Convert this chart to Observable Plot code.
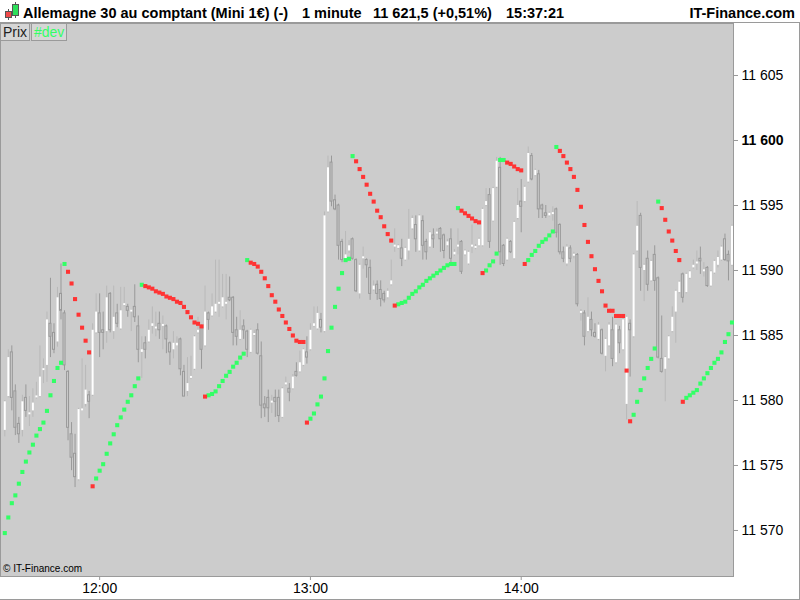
<!DOCTYPE html>
<html><head><meta charset="utf-8">
<script src="https://cdn.jsdelivr.net/npm/d3@7"></script>
<script src="https://cdn.jsdelivr.net/npm/@observablehq/plot@0.6"></script>
<style>
html,body{margin:0;padding:0;background:#fff;}
#wrap{position:relative;width:800px;height:600px;overflow:hidden;font-family:"Liberation Sans",Arial,sans-serif;}
#title{position:absolute;left:0;top:0;width:800px;height:22px;background:#fff;border-bottom:1px solid #9a9a9a;}
#title span{position:absolute;top:2px;line-height:22px;font-weight:bold;font-size:14.5px;white-space:pre;color:#000;}
#chart{position:absolute;left:0;top:23px;}
#chart g[aria-label$="tick"]{stroke:#999;}
.tag{position:absolute;top:23px;height:16px;line-height:16px;font-size:14px;border:1px solid #9a9a9a;background:#d6d6d6;padding:0 2px;}
#copy{position:absolute;left:3px;top:563px;font-size:10px;color:#000;}
#rline{position:absolute;left:799px;top:22px;width:1px;height:578px;background:#9a9a9a;}
#bline{position:absolute;left:0;top:599px;width:800px;height:1px;background:#9a9a9a;}
</style></head>
<body><div id="wrap">
<div id="title">
<svg style="position:absolute;left:2px;top:2px" width="18" height="18">
<line x1="6.5" y1="7" x2="6.5" y2="18" stroke="#555"/><rect x="3.5" y="9.5" width="6" height="6" fill="#f24a4a" stroke="#555"/>
<line x1="13.5" y1="0" x2="13.5" y2="16" stroke="#555"/><rect x="10.5" y="2.5" width="6" height="11" fill="#2ee05a" stroke="#555"/>
</svg>
<span style="left:23px">Allemagne 30 au comptant (Mini 1€) (-)</span>
<span style="left:302px">1 minute</span>
<span style="left:373px">11 621,5 (+0,51%)</span>
<span style="left:506px">15:37:21</span>
<span style="right:5px">IT-Finance.com</span>
</div>
<div id="chart"></div>
<div class="tag" style="left:0;color:#222">Prix</div>
<div class="tag" style="left:31px;color:#33ff66">#dev</div>
<div id="copy">© IT-Finance.com</div>
<div id="rline"></div><div id="bline"></div>
</div>
<script>
const openP = [11577.7,11580.3,11583.7,11580.7,11578.2,11577.7,11580.2,11578.9,11579.2,11580.2,11580.3,11582.3,11582.7,11585.9,11585.2,11584.5,11588.2,11586.7,11582.2,11577.4,11575.9,11573.9,11579.2,11579.7,11580.4,11580.4,11585.2,11586.7,11585.4,11585.3,11588.2,11585.3,11586.7,11585.5,11587.3,11587.2,11586.8,11587.2,11585.7,11583.7,11584.4,11584.5,11585.7,11585.5,11585.9,11585.7,11585.7,11584.4,11583.9,11584.2,11584.7,11582.2,11580.7,11581.7,11582.4,11585.2,11585.7,11584.2,11586.7,11586.5,11586.8,11587.4,11587.2,11587.4,11587.9,11587.9,11585.4,11584.7,11585.7,11585.3,11583.7,11585.0,11585.4,11583.4,11579.7,11580.2,11579.8,11580.2,11580.2,11578.7,11581.2,11580.9,11580.9,11582.2,11582.2,11582.7,11583.7,11583.9,11585.7,11585.5,11586.2,11585.3,11594.5,11598.3,11595.4,11595.0,11592.2,11590.9,11591.5,11592.4,11590.8,11588.2,11590.9,11590.8,11590.2,11588.5,11588.9,11588.5,11588.2,11587.9,11588.9,11591.8,11591.7,11591.7,11590.8,11591.5,11593.2,11593.5,11591.5,11593.8,11592.2,11591.8,11592.7,11592.8,11593.2,11592.7,11591.9,11592.4,11591.2,11591.8,11592.2,11591.2,11590.5,11591.8,11591.7,11591.9,11591.9,11595.0,11595.8,11593.8,11596.4,11597.9,11591.9,11590.8,11592.2,11590.9,11594.0,11595.3,11595.3,11596.8,11598.8,11597.3,11597.4,11595.0,11594.4,11594.2,11594.3,11594.7,11593.5,11591.4,11590.5,11591.7,11591.1,11591.2,11586.7,11586.7,11585.3,11586.2,11585.2,11584.7,11585.4,11583.4,11584.2,11585.4,11582.9,11585.4,11583.9,11579.7,11585.9,11584.9,11591.5,11594.2,11590.0,11590.9,11589.2,11591.2,11589.4,11583.2,11582.4,11583.2,11585.3,11586.8,11588.3,11589.7,11588.3,11589.4,11590.2,11590.5,11590.9,11589.9,11590.2,11588.8,11589.8,11590.4,11590.8,11592.4,11591.2,11590.4];
const highP = [11580.0,11583.9,11584.2,11581.2,11578.7,11580.4,11581.2,11580.3,11580.9,11581.4,11584.2,11583.2,11586.8,11589.4,11585.9,11588.7,11590.5,11586.9,11582.3,11578.3,11577.4,11579.4,11583.2,11582.7,11580.7,11585.9,11588.2,11588.2,11586.8,11588.8,11588.3,11588.8,11587.4,11588.7,11588.7,11587.4,11587.0,11588.9,11586.5,11584.9,11584.9,11586.2,11587.2,11586.8,11586.8,11586.5,11585.8,11584.5,11585.3,11584.9,11584.8,11582.7,11583.3,11583.4,11585.0,11586.4,11585.8,11588.8,11586.8,11588.2,11590.8,11590.8,11589.7,11589.7,11589.5,11588.0,11586.4,11586.9,11586.2,11585.4,11585.5,11585.4,11585.9,11584.5,11580.3,11580.8,11580.4,11580.8,11580.8,11581.0,11581.8,11581.3,11582.0,11582.9,11583.8,11584.0,11584.9,11585.9,11587.2,11587.2,11586.7,11594.5,11598.8,11598.8,11595.8,11595.1,11592.4,11593.0,11592.3,11592.5,11590.9,11590.5,11591.8,11590.9,11590.8,11589.2,11589.2,11589.2,11588.4,11588.6,11590.8,11593.2,11592.0,11592.4,11591.8,11594.7,11594.2,11594.2,11594.3,11594.2,11592.4,11593.0,11593.2,11593.2,11593.3,11592.8,11592.4,11593.2,11591.6,11593.2,11592.3,11591.6,11591.5,11593.5,11592.0,11592.5,11594.8,11596.3,11596.3,11596.4,11598.7,11598.7,11592.0,11592.5,11592.3,11593.8,11596.3,11597.0,11596.5,11599.5,11599.0,11597.8,11597.7,11595.1,11595.0,11594.5,11594.9,11594.8,11593.6,11591.8,11592.0,11591.9,11591.4,11591.3,11587.0,11586.9,11587.9,11586.8,11585.9,11586.0,11585.5,11584.8,11586.0,11586.4,11585.9,11585.7,11586.3,11586.5,11586.2,11591.3,11595.3,11594.4,11590.5,11591.5,11590.8,11591.9,11589.5,11586.5,11583.4,11585.0,11587.2,11588.5,11589.2,11589.8,11589.8,11590.0,11590.8,11591.5,11591.8,11590.6,11590.3,11590.0,11590.8,11591.5,11591.9,11592.8,11591.5,11593.5];
const lowP = [11577.2,11580.2,11579.2,11577.3,11576.7,11577.2,11578.7,11578.0,11578.7,11580.1,11580.2,11581.3,11581.4,11583.3,11583.6,11584.1,11586.2,11582.3,11576.9,11574.6,11573.3,11573.8,11579.2,11579.5,11578.6,11580.3,11585.1,11583.3,11583.9,11584.4,11585.2,11584.7,11585.6,11585.4,11587.2,11586.4,11585.3,11586.0,11582.9,11581.7,11583.2,11584.4,11585.1,11584.9,11584.7,11583.9,11583.6,11582.7,11583.2,11584.2,11581.9,11580.3,11580.3,11581.6,11582.3,11585.1,11582.4,11584.1,11585.4,11586.4,11586.7,11586.4,11587.1,11586.2,11587.6,11584.2,11584.2,11584.6,11584.7,11583.3,11583.6,11584.9,11583.5,11578.6,11578.7,11578.3,11579.0,11578.7,11578.3,11578.6,11581.1,11579.9,11580.8,11581.8,11582.1,11582.6,11582.8,11583.8,11585.6,11585.4,11585.2,11585.2,11594.4,11594.9,11594.6,11590.8,11590.6,11590.8,11591.3,11590.8,11588.3,11587.8,11590.1,11589.4,11587.7,11588.4,11587.7,11587.2,11587.5,11587.8,11588.8,11591.4,11591.6,11590.3,11590.7,11590.8,11593.1,11591.4,11591.4,11590.8,11590.8,11591.7,11591.7,11592.7,11591.4,11590.9,11591.8,11590.5,11591.1,11591.2,11589.7,11591.1,11590.4,11591.3,11591.6,11591.8,11591.8,11594.9,11591.7,11593.7,11596.3,11590.4,11590.3,11590.7,11591.3,11590.8,11593.9,11592.9,11595.2,11596.7,11596.9,11597.2,11594.0,11594.0,11594.0,11594.1,11593.8,11592.5,11591.2,11590.6,11590.3,11590.6,11590.9,11587.2,11586.1,11584.2,11585.2,11584.9,11584.8,11584.6,11583.5,11582.2,11584.1,11582.6,11582.8,11583.6,11583.8,11578.5,11581.8,11584.8,11591.4,11588.4,11587.6,11588.4,11589.1,11588.4,11583.2,11582.1,11579.9,11583.1,11585.2,11584.4,11588.2,11587.5,11588.2,11589.3,11590.1,11590.0,11589.7,11589.5,11588.7,11588.7,11589.7,11590.2,11590.7,11590.7,11589.2,11590.3];
const closeP = [11579.9,11583.3,11580.2,11577.9,11577.4,11579.9,11579.2,11578.9,11579.8,11580.3,11581.8,11582.4,11586.2,11584.9,11583.9,11587.9,11586.9,11582.7,11577.9,11575.6,11574.1,11579.3,11579.3,11580.8,11579.9,11585.4,11586.8,11585.2,11585.2,11587.9,11585.4,11586.4,11585.9,11586.9,11587.4,11586.9,11586.9,11586.4,11583.9,11583.9,11583.9,11585.4,11585.9,11585.6,11585.4,11585.8,11584.7,11583.7,11584.4,11584.4,11582.4,11580.3,11581.3,11581.8,11584.9,11585.4,11583.9,11586.8,11586.2,11587.2,11587.4,11587.5,11587.9,11587.5,11587.7,11585.2,11584.9,11585.4,11585.4,11583.9,11585.4,11585.1,11583.6,11579.6,11579.4,11579.4,11579.9,11579.9,11578.8,11580.9,11581.3,11580.6,11581.8,11581.9,11582.9,11583.9,11583.3,11585.4,11585.9,11586.7,11585.6,11594.2,11597.9,11595.3,11594.7,11591.9,11590.8,11591.2,11591.9,11590.9,11588.4,11590.4,11591.0,11590.4,11588.2,11588.8,11588.2,11587.8,11587.7,11588.4,11589.2,11591.9,11591.9,11590.9,11591.7,11592.4,11594.0,11592.4,11594.2,11591.9,11591.4,11592.9,11592.4,11592.9,11592.4,11591.5,11592.2,11590.9,11591.4,11591.9,11589.9,11591.5,11591.4,11591.9,11591.8,11592.4,11594.7,11595.3,11592.2,11596.3,11598.4,11591.4,11590.5,11592.4,11591.4,11593.7,11595.0,11594.9,11596.4,11599.0,11597.0,11597.7,11594.7,11594.7,11594.2,11594.4,11594.4,11592.9,11591.4,11590.9,11591.8,11590.9,11591.2,11587.4,11586.8,11584.9,11586.4,11585.4,11584.9,11585.8,11583.6,11584.7,11585.8,11583.2,11585.8,11584.4,11586.2,11586.4,11585.4,11591.2,11593.4,11590.2,11590.4,11588.9,11590.7,11589.2,11583.3,11582.2,11583.3,11584.9,11586.4,11588.4,11589.1,11587.9,11589.7,11589.9,11590.4,11590.6,11590.7,11590.0,11588.8,11589.9,11590.7,11591.0,11591.8,11590.8,11590.7,11593.4];
const sarValue = [11569.8,11571.0,11572.1,11572.7,11573.6,11574.5,11575.3,11576.0,11576.6,11577.3,11577.8,11578.3,11579.2,11580.4,11581.5,11582.5,11582.9,11590.5,11589.9,11589.0,11587.8,11586.6,11585.6,11584.6,11583.7,11573.4,11574.0,11574.6,11575.1,11575.9,11576.7,11577.4,11578.1,11578.7,11579.3,11579.9,11580.4,11581.1,11581.7,11588.9,11588.8,11588.7,11588.6,11588.4,11588.3,11588.2,11588.0,11587.9,11587.8,11587.6,11587.5,11587.2,11586.8,11586.4,11586.0,11585.9,11585.7,11580.3,11580.4,11580.5,11580.7,11581.1,11581.5,11581.9,11582.2,11582.6,11582.9,11583.3,11583.6,11590.8,11590.6,11590.5,11590.3,11589.9,11589.4,11588.8,11588.1,11587.6,11587.0,11586.5,11586.0,11585.5,11585.0,11584.6,11584.5,11584.5,11578.3,11578.6,11579.0,11579.7,11580.3,11581.7,11583.8,11585.6,11587.2,11588.6,11589.8,11590.8,11590.9,11598.8,11598.4,11597.8,11597.2,11596.6,11595.9,11595.3,11594.6,11594.1,11593.4,11592.8,11592.3,11587.3,11587.4,11587.5,11587.6,11587.9,11588.2,11588.4,11588.7,11588.9,11589.2,11589.4,11589.6,11589.8,11590.0,11590.2,11590.4,11590.5,11590.5,11594.8,11594.6,11594.4,11594.2,11594.0,11593.8,11593.7,11589.8,11590.0,11590.4,11590.7,11591.3,11598.5,11598.5,11598.3,11598.2,11598.0,11597.8,11597.7,11590.5,11590.8,11591.2,11591.5,11591.9,11592.2,11592.4,11592.7,11593.0,11599.5,11599.2,11598.8,11598.3,11597.8,11597.2,11596.2,11594.9,11593.5,11592.2,11591.1,11590.1,11589.2,11588.4,11587.3,11586.9,11586.9,11586.5,11586.5,11586.5,11582.3,11578.4,11578.9,11579.9,11580.8,11581.7,11582.5,11583.2,11584.0,11595.3,11594.8,11593.9,11593.0,11592.3,11591.5,11590.8,11579.9,11580.2,11580.4,11580.6,11580.8,11581.3,11581.7,11582.1,11582.5,11582.9,11583.2,11583.7,11584.5,11585.1,11586.0];
// colour of each SAR dot, as consecutive runs: [side, number of candles]
const sarRuns = [["g",18],["r",8],["g",14],["r",18],["g",12],["r",17],["g",13],["r",12],["g",18],["r",7],["g",6],["r",6],["g",9],["r",21],["g",8],["r",7],["g",14]];
const yTicks = [11570,11575,11580,11585,11590,11595,11600,11605];
const xTickLabels = ["12:00","13:00","14:00"];
const firstMinute = "11:33";

const MIN = 60000;
const [h0,m0] = firstMinute.split(":").map(Number);
const start = Date.UTC(2023,0,2,h0,m0);
const tAt = i => new Date(start + i*MIN);
const candles = openP.map((o,i)=>({t:tAt(i), o, h:highP[i], l:lowP[i], c:closeP[i]}));
const up = candles.filter(d=>d.c>=d.o), down = candles.filter(d=>d.c<d.o);
const sarSide = sarRuns.flatMap(([s,n])=>Array(n).fill(s));
const sar = sarValue.map((v,i)=>({t:tAt(i), v, s:sarSide[i]}));
const xTicks = xTickLabels.map(s=>{const [h,m]=s.split(":").map(Number);return new Date(Date.UTC(2023,0,2,h,m));});
const hw = 17000;
const fmtY = d => d3.format(",")(d).replace(",", " ");

const chart = Plot.plot({
  width:800, height:577,
  marginTop:0, marginLeft:0, marginRight:67, marginBottom:24,
  x:{type:"utc", domain:[new Date(start-1.224*MIN), new Date(start+207.43*MIN)], ticks:xTicks, tickFormat:d3.utcFormat("%H:%M"), tickSize:4, tickPadding:3, label:null},
  y:{domain:[11566.46,11609], axis:"right", ticks:yTicks, tickFormat:fmtY, tickSize:4, tickPadding:4, label:null},
  style:{fontFamily:"'Liberation Sans', Arial, sans-serif", fontSize:"14px", background:"white", color:"black"},
  marks:[
    Plot.frame({fill:"#cccccc", stroke:"#9a9a9a"}),
    Plot.ruleX(up,{x:"t",y1:"l",y2:"h",stroke:"#b9b9b9",strokeWidth:1}),
    Plot.ruleX(down,{x:"t",y1:"l",y2:"h",stroke:"#999999",strokeWidth:1}),
    Plot.rect(down,{x1:d=>new Date(+d.t-hw), x2:d=>new Date(+d.t+hw), y1:"o", y2:"c", fill:"#cccccc", stroke:"#999999", strokeWidth:1}),
    Plot.ruleX(up,{x:"t",y1:"o",y2:d=>Math.max(d.c,d.o+0.15),stroke:"white",strokeWidth:2}),
    Plot.dot(sar.filter(d=>d.s==="g"),{x:"t",y:"v",symbol:"square",r:2.3,fill:"#33ff66",stroke:"none"}),
    Plot.dot(sar.filter(d=>d.s==="r"),{x:"t",y:"v",symbol:"square",r:2.3,fill:"#ff3333",stroke:"none"})
  ]
});
chart.querySelectorAll("text").forEach(t=>{ if(t.textContent==="11 600") t.setAttribute("font-weight","bold"); });
document.getElementById("chart").appendChild(chart);
</script>
</body></html>
